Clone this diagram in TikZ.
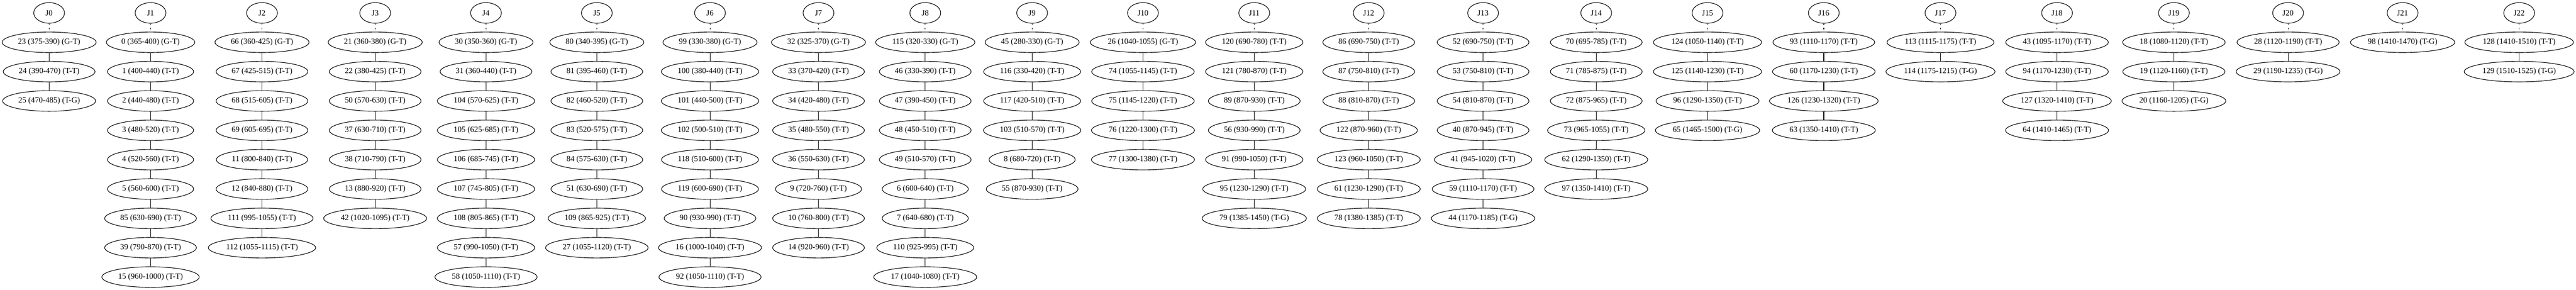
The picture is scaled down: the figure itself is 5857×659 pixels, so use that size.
\documentclass[tikz,border=0pt]{standalone}
\usepackage{fontspec}
\setmainfont{Liberation Serif}
\usetikzlibrary{shapes.geometric}
\tikzset{
  tnode/.style={draw, ellipse, line width=1.3pt, inner xsep=4.7pt, inner ysep=0pt, minimum height=46.7pt},
  jnode/.style={draw, ellipse, line width=1.3pt, inner sep=0pt, minimum width=70pt, minimum height=46.7pt},
  tedge/.style={line width=1.3pt},
  jedge/.style={line width=1.3pt, dash pattern=on 2.6pt off 7.8pt},
  every node/.style={font=\fontsize{18.1}{21.7}\selectfont, text=black}
}
\newcommand{\jcol}[3]{%
  \node[jnode] (J#2) at (#1,29.4) {J#2};
  \xdef\prevnode{J#2}%
  \foreach \n/\t [count=\k] in {#3} {
    \node[tnode] (n\n) at (#1,{29.4+\k*66.74}) {\n\ \t};
    \ifnum\k=1 \draw[jedge] (\prevnode) -- (n\n); \else \draw[tedge] (\prevnode) -- (n\n); \fi
    \xdef\prevnode{n\n}
  }
}
\begin{document}
\begin{tikzpicture}[x=1pt,y=-1pt]
\useasboundingbox[fill=white] (0,0) rectangle (5857,659);
\jcol{111.7}{0}{23/{(375-390) (G-T)},24/{(390-470) (T-T)},25/{(470-485) (T-G)}}
\jcol{342.3}{1}{0/{(365-400) (G-T)},1/{(400-440) (T-T)},2/{(440-480) (T-T)},3/{(480-520) (T-T)},4/{(520-560) (T-T)},5/{(560-600) (T-T)},85/{(630-690) (T-T)},39/{(790-870) (T-T)},15/{(960-1000) (T-T)}}
\jcol{595.7}{2}{66/{(360-425) (G-T)},67/{(425-515) (T-T)},68/{(515-605) (T-T)},69/{(605-695) (T-T)},11/{(800-840) (T-T)},12/{(840-880) (T-T)},111/{(995-1055) (T-T)},112/{(1055-1115) (T-T)}}
\jcol{853}{3}{21/{(360-380) (G-T)},22/{(380-425) (T-T)},50/{(570-630) (T-T)},37/{(630-710) (T-T)},38/{(710-790) (T-T)},13/{(880-920) (T-T)},42/{(1020-1095) (T-T)}}
\jcol{1105}{4}{30/{(350-360) (G-T)},31/{(360-440) (T-T)},104/{(570-625) (T-T)},105/{(625-685) (T-T)},106/{(685-745) (T-T)},107/{(745-805) (T-T)},108/{(805-865) (T-T)},57/{(990-1050) (T-T)},58/{(1050-1110) (T-T)}}
\jcol{1357}{5}{80/{(340-395) (G-T)},81/{(395-460) (T-T)},82/{(460-520) (T-T)},83/{(520-575) (T-T)},84/{(575-630) (T-T)},51/{(630-690) (T-T)},109/{(865-925) (T-T)},27/{(1055-1120) (T-T)}}
\jcol{1614.3}{6}{99/{(330-380) (G-T)},100/{(380-440) (T-T)},101/{(440-500) (T-T)},102/{(500-510) (T-T)},118/{(510-600) (T-T)},119/{(600-690) (T-T)},90/{(930-990) (T-T)},16/{(1000-1040) (T-T)},92/{(1050-1110) (T-T)}}
\jcol{1861}{7}{32/{(325-370) (G-T)},33/{(370-420) (T-T)},34/{(420-480) (T-T)},35/{(480-550) (T-T)},36/{(550-630) (T-T)},9/{(720-760) (T-T)},10/{(760-800) (T-T)},14/{(920-960) (T-T)}}
\jcol{2103.7}{8}{115/{(320-330) (G-T)},46/{(330-390) (T-T)},47/{(390-450) (T-T)},48/{(450-510) (T-T)},49/{(510-570) (T-T)},6/{(600-640) (T-T)},7/{(640-680) (T-T)},110/{(925-995) (T-T)},17/{(1040-1080) (T-T)}}
\jcol{2346.7}{9}{45/{(280-330) (G-T)},116/{(330-420) (T-T)},117/{(420-510) (T-T)},103/{(510-570) (T-T)},8/{(680-720) (T-T)},55/{(870-930) (T-T)}}
\jcol{2598.7}{10}{26/{(1040-1055) (G-T)},74/{(1055-1145) (T-T)},75/{(1145-1220) (T-T)},76/{(1220-1300) (T-T)},77/{(1300-1380) (T-T)}}
\jcol{2851.7}{11}{120/{(690-780) (T-T)},121/{(780-870) (T-T)},89/{(870-930) (T-T)},56/{(930-990) (T-T)},91/{(990-1050) (T-T)},95/{(1230-1290) (T-T)},79/{(1385-1450) (T-G)}}
\jcol{3112}{12}{86/{(690-750) (T-T)},87/{(750-810) (T-T)},88/{(810-870) (T-T)},122/{(870-960) (T-T)},123/{(960-1050) (T-T)},61/{(1230-1290) (T-T)},78/{(1380-1385) (T-T)}}
\jcol{3372}{13}{52/{(690-750) (T-T)},53/{(750-810) (T-T)},54/{(810-870) (T-T)},40/{(870-945) (T-T)},41/{(945-1020) (T-T)},59/{(1110-1170) (T-T)},44/{(1170-1185) (T-G)}}
\jcol{3629.3}{14}{70/{(695-785) (T-T)},71/{(785-875) (T-T)},72/{(875-965) (T-T)},73/{(965-1055) (T-T)},62/{(1290-1350) (T-T)},97/{(1350-1410) (T-T)}}
\jcol{3882.3}{15}{124/{(1050-1140) (T-T)},125/{(1140-1230) (T-T)},96/{(1290-1350) (T-T)},65/{(1465-1500) (T-G)}}
\jcol{4146.7}{16}{93/{(1110-1170) (T-T)},60/{(1170-1230) (T-T)},126/{(1230-1320) (T-T)},63/{(1350-1410) (T-T)}}
\jcol{4412}{17}{113/{(1115-1175) (T-T)},114/{(1175-1215) (T-G)}}
\jcol{4677}{18}{43/{(1095-1170) (T-T)},94/{(1170-1230) (T-T)},127/{(1320-1410) (T-T)},64/{(1410-1465) (T-T)}}
\jcol{4942.7}{19}{18/{(1080-1120) (T-T)},19/{(1120-1160) (T-T)},20/{(1160-1205) (T-G)}}
\jcol{5202.3}{20}{28/{(1120-1190) (T-T)},29/{(1190-1235) (T-G)}}
\jcol{5462.7}{21}{98/{(1410-1470) (T-G)}}
\jcol{5727.7}{22}{128/{(1410-1510) (T-T)},129/{(1510-1525) (T-G)}}
\end{tikzpicture}
\end{document}
